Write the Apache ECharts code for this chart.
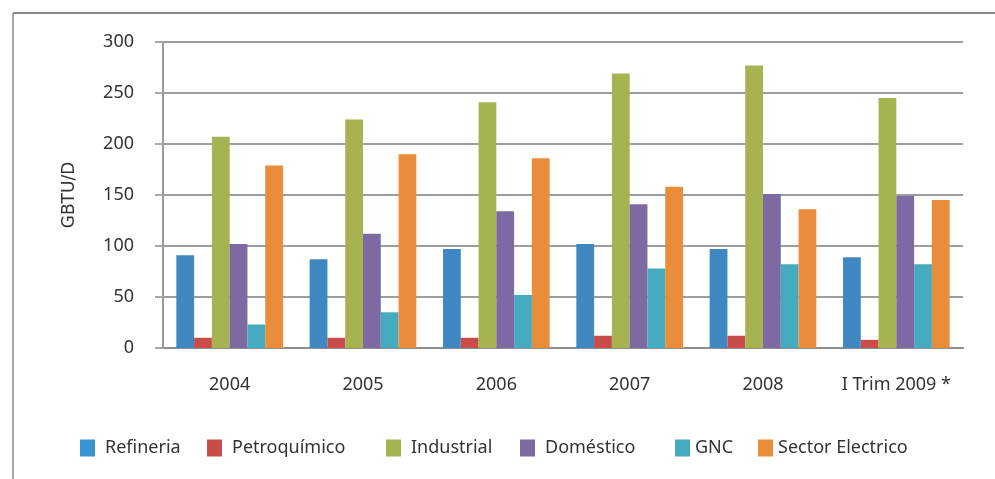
<!DOCTYPE html>
<html>
<head>
<meta charset="utf-8">
<style>
  html, body { margin: 0; padding: 0; background: #fff; }
  #chart { width: 995px; height: 479px; }
</style>
<script src="https://cdn.jsdelivr.net/npm/echarts@6/dist/echarts.min.js"></script>
</head>
<body>
<div id="chart"></div>
<script>
// Consumo de gas natural por sector (GBTU/D)
const categories = ['2004', '2005', '2006', '2007', '2008', 'I Trim 2009 *'];
const refineria    = [91, 87, 97, 102, 97, 89];
const petroquimico = [10, 10, 10, 12, 12, 8];
const industrial   = [207, 224, 241, 269, 277, 245];
const domestico    = [102, 112, 134, 141, 151, 149];
const gnc          = [23, 35, 52, 78, 82, 82];
const electrico    = [179, 190, 186, 158, 136, 145];
const yTicks = { min: 0, max: 300, interval: 50 };

const seriesDefs = [
  { name: 'Refineria', data: refineria, color: '#3F87C1', legendColor: '#3A93D2', legendLeft: 80 },
  { name: 'Petroquímico', data: petroquimico, color: '#C84C4A', legendColor: '#C84C4A', legendLeft: 207 },
  { name: 'Industrial', data: industrial, color: '#A7B351', legendColor: '#A7B351', legendLeft: 386 },
  { name: 'Doméstico', data: domestico, color: '#7E6AA3', legendColor: '#7E6AA3', legendLeft: 520 },
  { name: 'GNC', data: gnc, color: '#46ABC0', legendColor: '#46ABC0', legendLeft: 675 },
  { name: 'Sector Electrico', data: electrico, color: '#EA8D3B', legendColor: '#EA8D3B', legendLeft: 758 }
];

const labelFont = '"Noto Sans", sans-serif';

// one legend block per series so each entry keeps its own spot on the row
const legends = seriesDefs.map(s => ({
  left: s.legendLeft,
  top: 439,
  itemWidth: 15,
  itemHeight: 17,
  icon: 'rect',
  padding: 0,
  itemStyle: { color: s.legendColor },
  textStyle: { fontFamily: labelFont, fontSize: 18, color: '#333', padding: [0, 0, 0, (s.name === 'GNC' || s.name === 'Sector Electrico') ? 0 : 5] },
  data: [s.name]
}));

const chart = echarts.init(document.getElementById('chart'), null, { renderer: 'canvas' });
chart.setOption({
  backgroundColor: '#fff',
  animation: false,
  grid: { left: 163, right: 32, top: 42, bottom: 131, containLabel: false },
  legend: legends,
  xAxis: {
    type: 'category',
    data: categories,
    axisLine: { show: true, lineStyle: { color: '#8f8f93', width: 2 } },
    axisTick: { show: false },
    axisLabel: { interval: 0, margin: 28, fontFamily: labelFont, fontSize: 18, color: '#333' }
  },
  yAxis: {
    type: 'value',
    min: yTicks.min,
    max: yTicks.max,
    interval: yTicks.interval,
    name: 'GBTU/D',
    nameLocation: 'middle',
    nameRotate: 90,
    nameGap: 85,
    nameTextStyle: { fontFamily: '"DejaVu Sans", sans-serif', fontSize: 17, color: '#333' },
    axisLine: { show: true, lineStyle: { color: '#9a9a9e', width: 2 } },
    axisTick: { show: true, length: 8, lineStyle: { color: '#a8a8ac', width: 2 } },
    axisLabel: { margin: 29, fontFamily: labelFont, fontSize: 18, color: '#333' },
    splitLine: { show: true, lineStyle: { color: '#9d9da1', width: 2 } }
  },
  series: seriesDefs.map(s => ({
    name: s.name,
    type: 'bar',
    data: s.data,
    barGap: '0%',
    barCategoryGap: '20%',
    itemStyle: { color: s.color }
  })),
  graphic: [
    { type: 'line', shape: { x1: 13, y1: 13, x2: 995, y2: 13 }, style: { stroke: '#8a8a8a', lineWidth: 2 } },
    { type: 'line', shape: { x1: 13, y1: 13, x2: 13, y2: 479 }, style: { stroke: '#8a8a8a', lineWidth: 1.5 } }
  ]
});
</script>
</body>
</html>
